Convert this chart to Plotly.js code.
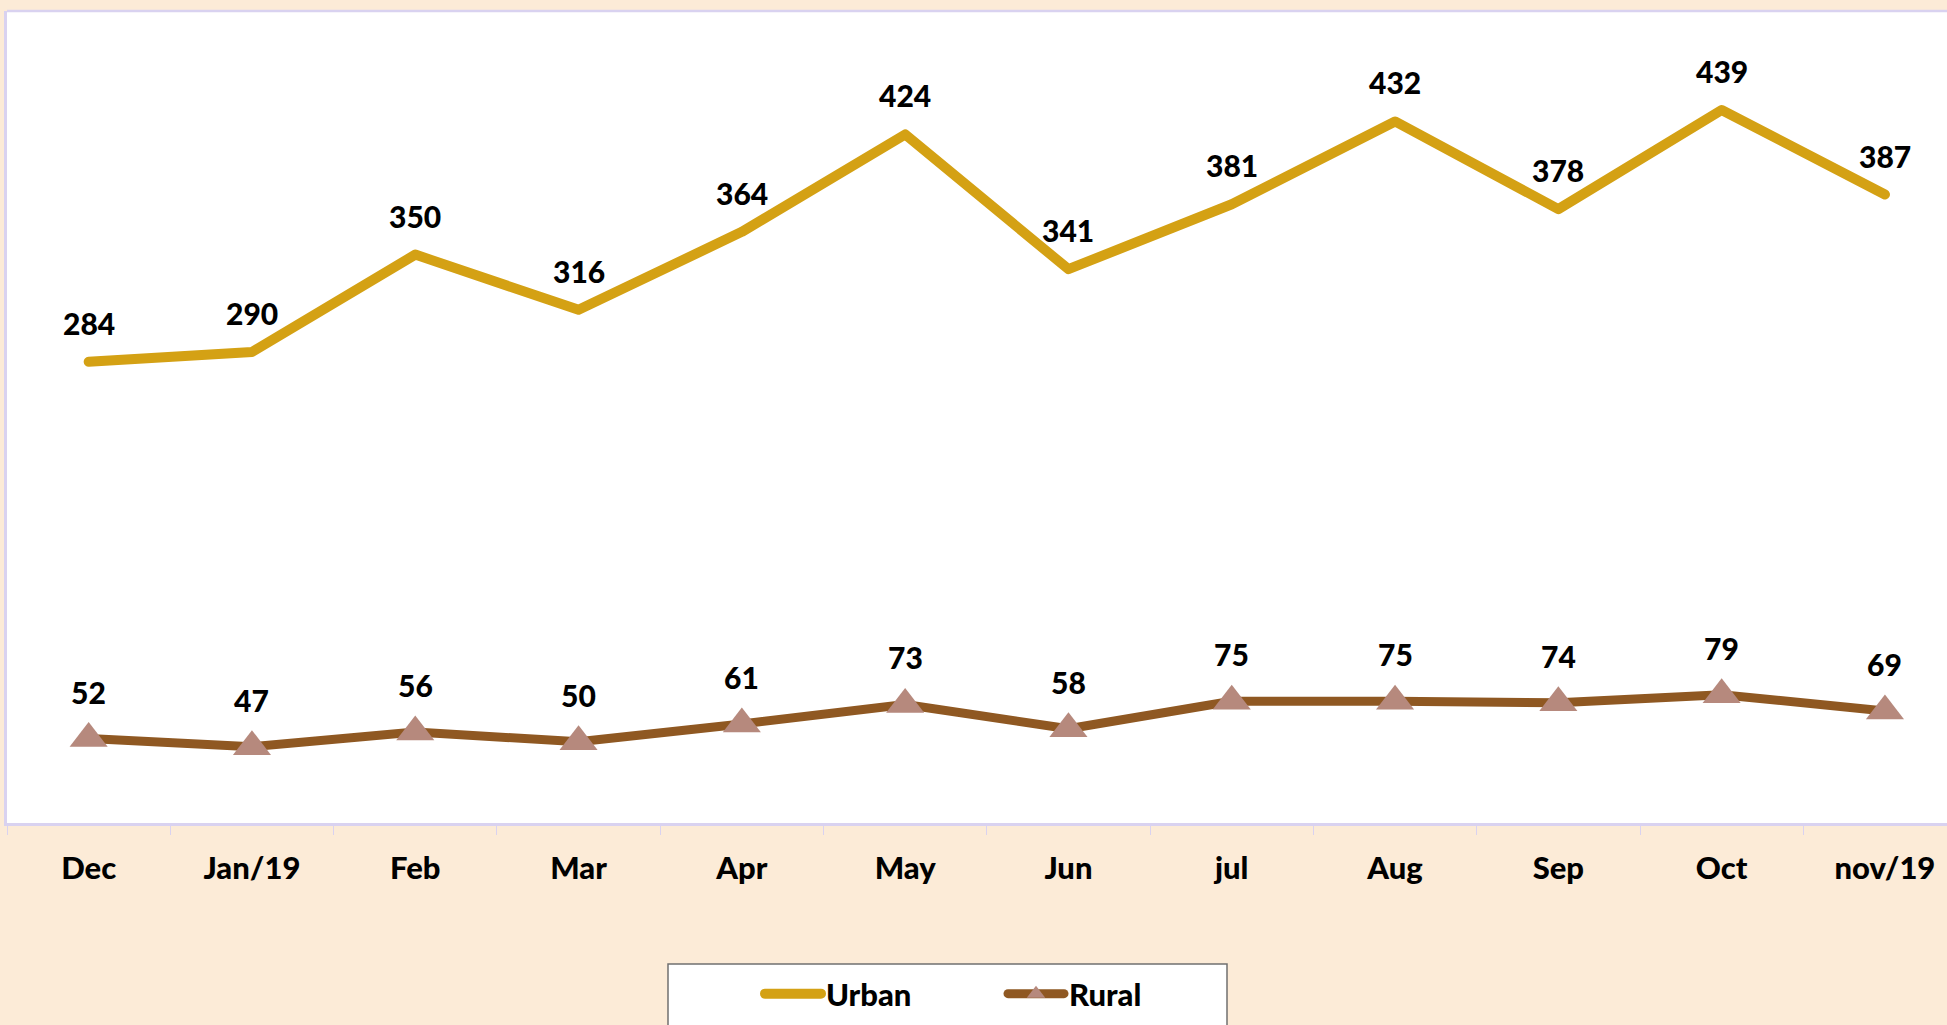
<!DOCTYPE html>
<html>
<head>
<meta charset="utf-8">
<script src="https://cdn.plot.ly/plotly-3.0.1.min.js"></script>
<style>
  html, body { margin: 0; padding: 0; background: #FCEBD7; }
  #chart { width: 1947px; height: 1025px; }
  .scatterlayer .js-line { stroke-linecap: round; stroke-linejoin: round; }
  .legendlines path { stroke-linecap: round; }
</style>
</head>
<body>
<div id="chart"></div>
<script>
const months = ["Dec", "Jan/19", "Feb", "Mar", "Apr", "May", "Jun", "jul", "Aug", "Sep", "Oct", "nov/19"];
const urban = [284, 290, 350, 316, 364, 424, 341, 381, 432, 378, 439, 387];
const rural = [52, 47, 56, 50, 61, 73, 58, 75, 75, 74, 79, 69];

const FONT = "Lato, 'Open Sans', 'DejaVu Sans', sans-serif";

const traces = [
  {
    x: months, y: urban, name: "Urban", type: "scatter", mode: "lines",
    line: { color: "#D4A114", width: 10 },
    hoverinfo: "x+y"
  },
  {
    x: months, y: rural, name: "Rural", type: "scatter", mode: "lines+markers",
    line: { color: "#8F5822", width: 9 },
    marker: { symbol: "triangle-up", size: 33, color: "#B6897D" },
    hoverinfo: "x+y"
  }
];

const annotations = [];
urban.forEach((v, i) => annotations.push({
  x: months[i], y: v, xref: "x", yref: "y", text: String(v), showarrow: false,
  yanchor: "middle", yshift: 39, font: { family: FONT, size: 30, color: "#000", weight: 900 }
}));
rural.forEach((v, i) => annotations.push({
  x: months[i], y: v, xref: "x", yref: "y", text: String(v), showarrow: false,
  yanchor: "middle", yshift: 47, font: { family: FONT, size: 30, color: "#000", weight: 900 }
}));

const W = 1947, H = 1025, ML = 7, MR = 0, MT = 11, MB = 202;
const PW = W - ML - MR, PH = H - MT - MB;
const px = (p) => (p - ML) / PW;
const py = (p) => (H - MB - p) / PH;

const layout = {
  width: W, height: H,
  margin: { l: ML, r: MR, t: MT, b: MB, autoexpand: false },
  paper_bgcolor: "#FCEBD7",
  plot_bgcolor: "#FFFFFF",
  font: { family: FONT, color: "#000" },
  showlegend: true,
  legend: {
    orientation: "h",
    x: px(760), xanchor: "left",
    y: py(994), yanchor: "middle",
    bgcolor: "rgba(0,0,0,0)", borderwidth: 0,
    font: { family: FONT, size: 31, color: "#000", weight: 900 },
    itemwidth: 56,
    entrywidth: 172, entrywidthmode: "pixels"
  },
  xaxis: {
    type: "category",
    range: [-0.5, 11.38],
    showgrid: false, zeroline: false,
    showline: true, linecolor: "#D9D2F0", linewidth: 2.5,
    ticks: "outside", tickson: "boundaries", ticklen: 9, tickcolor: "#D9D2F0", tickwidth: 1,
    ticklabelstandoff: 16,
    tickfont: { family: FONT, size: 31, color: "#000", weight: 900 },
    fixedrange: true
  },
  yaxis: {
    range: [0, 500],
    showgrid: false, zeroline: false, showticklabels: false, ticks: "",
    showline: true, linecolor: "#D9D2F0", linewidth: 2.5,
    fixedrange: true
  },
  shapes: [
    { type: "line", xref: "paper", yref: "paper", x0: 0, x1: 1.02, y0: 1, y1: 1,
      line: { color: "#D9D2F0", width: 2.5 } },
    { type: "rect", xref: "paper", yref: "paper", layer: "above",
      x0: px(668), x1: px(1227), y0: py(964), y1: py(1045),
      fillcolor: "#FFFFFF", line: { color: "#707070", width: 1.5 } }
  ],
  annotations: annotations
};

Plotly.newPlot("chart", traces, layout, { displayModeBar: false, staticPlot: false });
</script>
</body>
</html>
